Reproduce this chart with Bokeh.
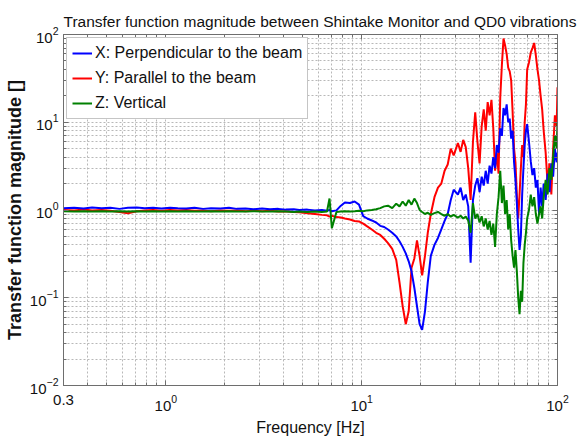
from bokeh.plotting import figure
from bokeh.models import (FixedTicker, LogAxis, Legend, LegendItem, LogTickFormatter,
                          CustomJSTickFormatter)
from bokeh.embed import file_html
from bokeh.resources import INLINE

TITLE = "Transfer function magnitude between Shintake Monitor and QD0 vibrations"
X_LABEL = "Frequency [Hz]"
Y_LABEL = "Transfer function magnitude []"
SERIES_NAMES = ["X: Perpendicular to the beam", "Y: Parallel to the beam", "Z: Vertical"]

freq = [0.30, 0.34, 0.38, 0.42, 0.47, 0.52, 0.58, 0.64, 0.71, 0.78, 0.86, 0.95, 1.05, 1.15,
        1.27, 1.4, 1.55, 1.7, 1.9, 2.1, 2.3, 2.55, 2.8, 3.1, 3.4, 3.75, 4.1, 4.5,
        4.8, 5.28, 5.77, 6.26, 6.65, 6.85, 7.04, 7.43, 7.83, 8.21, 8.71, 9.2, 9.69,
        10.18, 10.67, 11.26, 11.85, 12.44, 13.03, 13.63, 14.32, 15.01, 15.6, 16.19,
        16.79, 17.38, 17.97, 18.57, 19.16, 19.76, 20.36, 21.05, 21.75, 22.54, 23.53,
        24.52, 25.51, 26.51, 27.5, 28.5, 29.5, 31, 32, 33, 34, 35, 36, 37, 38, 39, 40,
        41, 42, 43, 44, 45, 46, 47, 48, 49, 50, 51, 52, 53, 54, 55, 56, 57, 58, 59, 60,
        61, 62, 63, 64, 65, 66, 67, 68, 69, 70, 71.5, 73, 74.5, 76, 77.5, 79, 80.5, 82,
        83.5, 85, 87, 89, 91, 93, 95, 97, 99, 100]

x_perp = [1.05, 1.06, 1.04, 1.07, 1.05, 1.06, 1.03, 1.06, 1.07, 1.05, 1.06, 1.04, 1.06, 1.05,
          1.04, 1.06, 1.03, 1.05, 1.04, 1.06, 1.03, 1.04, 1.02, 1.04, 1.02, 1.03, 1.01, 1.02,
          1.0, 1.01, 0.99, 1.0, 0.98, 1.0, 0.97, 0.99, 1.12, 1.22, 1.2, 1.25,
          1.15, 0.85, 0.8, 0.76, 0.72, 0.66, 0.64, 0.6, 0.55, 0.5, 0.44, 0.38,
          0.32, 0.26, 0.2, 0.13, 0.08, 0.05, 0.043, 0.07, 0.15, 0.3, 0.4,
          0.48, 0.6, 0.75, 0.9, 1.3, 1.7, 1.5, 1.8, 1.3, 1.5, 1.1, 0.25, 1.3, 1.9, 2.3, 1.6,
          2.4, 1.9, 2.8, 2.0, 3.2, 2.6, 4.0, 3.0, 5.5, 4.5, 8.5, 7.0, 14.5, 12, 16, 10, 11, 6.5, 8, 3.5,
          2.2, 1.2, 0.6, 0.35, 0.5, 1.5, 3.0, 5.5, 8.0, 9.5, 6.0, 3.6, 2.5, 3.0, 1.8, 2.2, 0.9, 1.8,
          1.1, 2.0, 1.3, 2.6, 1.6, 3.4, 2.4, 5.0, 3.5, 4.5]

y_par = [1.0, 0.99, 1.01, 0.99, 1.0, 0.98, 0.95, 0.92, 0.97, 0.99, 1.0, 0.98, 1.0, 0.99,
         1.0, 0.98, 0.99, 0.97, 0.99, 0.98, 0.99, 0.97, 0.98, 0.97, 0.98, 0.96, 0.97, 0.95,
         0.94, 0.92, 0.9, 0.88, 0.87, 0.84, 0.86, 0.83, 0.82, 0.8, 0.78, 0.75,
         0.74, 0.7, 0.65, 0.6, 0.55, 0.52, 0.47, 0.42, 0.36, 0.27, 0.15, 0.08,
         0.05, 0.07, 0.22, 0.28, 0.45, 0.3, 0.18, 0.3, 0.55, 0.9, 1.4,
         1.8, 2.0, 2.8, 3.3, 5.0, 4.2, 5.8, 4.6, 6.3, 5.2, 3.0, 1.3, 6.0, 13, 6.0, 3.4,
         9.0, 14, 8, 17, 12, 18, 8.5, 2.8, 4.5, 2.6, 19, 45, 90, 75, 60, 42, 38, 30, 13, 5,
         3.5, 1.5, 0.8, 1.5, 3.0, 5.5, 4.0, 10, 16, 40, 48, 62, 70, 80, 58, 40, 30, 20,
         14, 8, 4.5, 2.0, 3.4, 1.5, 5.0, 12, 9, 25]

z_vert = [0.97, 0.96, 0.97, 0.96, 0.97, 0.96, 0.97, 0.96, 0.97, 0.96, 0.97, 0.96, 0.97, 0.96,
          0.97, 0.96, 0.96, 0.97, 0.96, 0.97, 0.96, 0.96, 0.97, 0.96, 0.96, 0.97, 0.96, 0.95,
          0.96, 0.95, 0.96, 0.95, 0.96, 1.35, 0.62, 0.95, 0.96, 0.97, 0.96, 0.97,
          0.98, 0.97, 0.99, 1.0, 1.02, 1.05, 1.1, 1.12, 1.05, 1.18, 1.1, 1.25,
          1.12, 1.3, 1.15, 1.35, 1.2, 1.0, 0.95, 0.9, 0.93, 0.88, 0.92,
          0.95, 0.9, 0.86, 0.9, 0.84, 0.88, 0.82, 0.86, 0.8, 0.84, 0.76, 0.55, 1.2, 0.8, 0.9, 0.72,
          0.85, 0.65, 0.8, 0.6, 0.75, 0.52, 0.7, 0.38, 0.9, 1.4, 2.8, 1.2, 1.9, 0.9, 1.3, 0.6, 0.9, 0.45, 0.3, 0.22,
          0.35, 0.2, 0.1, 0.065, 0.12, 0.09, 0.25, 0.4, 0.55, 0.8, 1.0, 1.5, 1.1, 1.4, 0.9, 0.7, 0.9, 1.1,
          0.8, 1.4, 2.2, 1.5, 3.0, 2.2, 4.0, 7.0, 5.0, 10]

x_ticks = [0.3, 1, 10, 100]
x_minor = [0.4, 0.5, 0.6, 0.7, 0.8, 0.9, 2, 3, 4, 5, 6, 7, 8, 9,
           20, 30, 40, 50, 60, 70, 80, 90]
y_ticks = [0.01, 0.1, 1, 10, 100]
y_minor = [0.02, 0.03, 0.04, 0.05, 0.06, 0.07, 0.08, 0.09,
           0.2, 0.3, 0.4, 0.5, 0.6, 0.7, 0.8, 0.9,
           2, 3, 4, 5, 6, 7, 8, 9, 20, 30, 40, 50, 60, 70, 80, 90]

FONT = "Liberation Sans"
EDGE = "#6e6e6e"
GRID = "#b8b8b8"

p = figure(width=585, height=439, x_axis_type="log", y_axis_type="log",
           x_range=(0.3, 100), y_range=(0.01, 100),
           output_backend="svg", toolbar_location=None,
           min_border_left=63, min_border_right=28, min_border_top=34, min_border_bottom=54)

p.title.text = TITLE
p.title.text_font = FONT
p.title.text_font_size = "15.5px"
p.title.text_font_style = "normal"
p.title.text_color = "#111111"
p.title.align = "left"

xt = FixedTicker(ticks=x_ticks, minor_ticks=x_minor)
yt = FixedTicker(ticks=y_ticks, minor_ticks=y_minor)

p.xaxis.ticker = xt
p.yaxis.ticker = yt
p.xaxis.formatter = LogTickFormatter()
p.yaxis.formatter = LogTickFormatter()
p.xaxis.major_label_overrides = {0.3: "0.3"}

for ax in (p.xaxis[0], p.yaxis[0]):
    ax.major_label_text_font = FONT
    ax.major_label_text_font_size = "15px"
    ax.major_label_text_color = "#111111"
    ax.axis_label_text_font = FONT
    ax.axis_label_text_color = "#111111"
    ax.axis_line_color = EDGE
    ax.major_tick_line_color = EDGE
    ax.minor_tick_line_color = EDGE
    ax.major_tick_in = 5
    ax.major_tick_out = 0
    ax.minor_tick_in = 3
    ax.minor_tick_out = 0

p.xaxis.axis_label = X_LABEL
p.xaxis.axis_label_text_font_size = "16px"
p.xaxis.axis_label_text_font_style = "normal"
p.xaxis.axis_label_standoff = 5
p.xaxis.major_label_standoff = 9

p.yaxis.axis_label = Y_LABEL
p.yaxis.axis_label_text_font_size = "18px"
p.yaxis.axis_label_text_font_style = "bold"
p.yaxis.axis_label_standoff = 2
p.yaxis.major_label_standoff = 5

blank = CustomJSTickFormatter(code="return '';")
for tk, side, so in ((xt, "above", 5), (yt, "right", 0)):
    ax = LogAxis(ticker=tk, formatter=blank, major_label_standoff=so,
                 major_label_text_font_size="10px",
                 axis_line_color=EDGE, major_tick_line_color=EDGE, minor_tick_line_color=EDGE,
                 major_tick_in=5, major_tick_out=0, minor_tick_in=3, minor_tick_out=0)
    p.add_layout(ax, side)

for g in (p.xgrid[0], p.ygrid[0]):
    g.grid_line_color = GRID
    g.grid_line_dash = "2 2"
    g.grid_line_width = 1
    g.minor_grid_line_color = GRID
    g.minor_grid_line_dash = "2 2"
    g.minor_grid_line_width = 1

p.outline_line_color = EDGE
p.outline_line_width = 1

r_y = p.line(freq, y_par, line_color="#ff0000", line_width=2)
r_x = p.line(freq, x_perp, line_color="#0000ff", line_width=2)
r_z = p.line(freq, z_vert, line_color="#008000", line_width=2)

legend = Legend(items=[LegendItem(label=SERIES_NAMES[0], renderers=[r_x]),
                       LegendItem(label=SERIES_NAMES[1], renderers=[r_y]),
                       LegendItem(label=SERIES_NAMES[2], renderers=[r_z])],
                location="top_left", margin=3, padding=5, spacing=5,
                label_height=20, glyph_height=20, glyph_width=20, label_standoff=3,
                label_text_font=FONT, label_text_font_size="16px", label_text_color="#111111",
                border_line_color="#8c8c8c", border_line_width=1,
                background_fill_color="white", background_fill_alpha=1.0)
p.add_layout(legend)

open("out.html", "w").write(file_html(p, INLINE))
